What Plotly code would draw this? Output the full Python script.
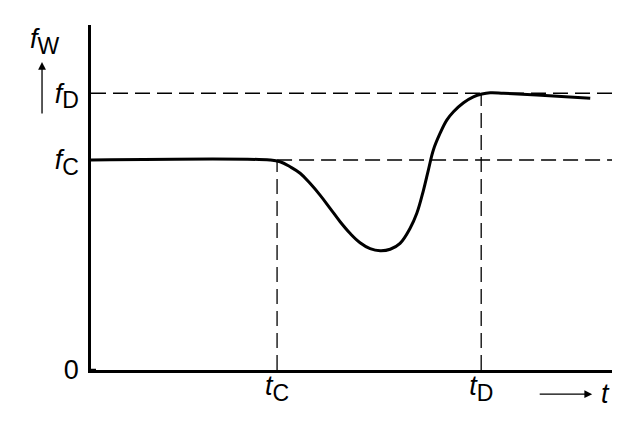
import plotly.graph_objects as go

# time axis: t_C = 1, level axis: f_C = 1
t_C = 1.0
t_D = 2.097
f_C = 1.0
f_D = 1.318

# response curve f_W(t)
curve_t = [0.0, 0.962, 1.016, 1.070, 1.124, 1.177, 1.231, 1.285, 1.339, 1.392,
           1.446, 1.500, 1.554, 1.608, 1.661, 1.715, 1.751, 1.787, 1.813, 1.840,
           1.876, 1.912, 1.948, 2.002, 2.055, 2.101, 2.145, 2.217, 2.396, 2.683]
curve_f = [1.0, 1.0, 0.992, 0.968, 0.937, 0.889, 0.833, 0.770, 0.706, 0.651,
           0.606, 0.578, 0.568, 0.575, 0.603, 0.675, 0.746, 0.857, 0.952, 1.048,
           1.127, 1.190, 1.230, 1.273, 1.301, 1.314, 1.320, 1.318, 1.310, 1.294]

SUB = "<sub><span style='font-size:23px'>%s</span></sub>"
x_ticks = [t_C, t_D]
x_labels = ["<i>t</i>" + SUB % "C", "<i>t</i>" + SUB % "D"]
y_ticks = [0, f_C, f_D]
y_labels = ["0", "<i>f</i>" + SUB % "C", "<i>f</i>" + SUB % "D"]

x_max = 2.80
y_max = 1.643

guide = dict(color="black", width=1.3, dash="15px,7px")

fig = go.Figure()

# dashed guide lines
fig.add_trace(go.Scatter(x=[0, x_max], y=[f_D, f_D], mode="lines", line=guide))
fig.add_trace(go.Scatter(x=[t_C, x_max], y=[f_C, f_C], mode="lines", line=guide))
fig.add_trace(go.Scatter(x=[t_C, t_C], y=[0, f_C], mode="lines", line=guide))
fig.add_trace(go.Scatter(x=[t_D, t_D], y=[0, f_D], mode="lines", line=guide))

# the curve
fig.add_trace(go.Scatter(x=curve_t, y=curve_f, mode="lines",
                         line=dict(color="black", width=3, shape="spline", smoothing=1.1)))

font = dict(family="Liberation Sans", size=27, color="black")

fig.update_layout(
    width=637, height=431,
    margin=dict(l=83, r=33, t=17, b=69),
    paper_bgcolor="white", plot_bgcolor="white",
    showlegend=False,
    font=font,
    xaxis=dict(range=[0, x_max], showgrid=False, zeroline=False,
               showline=True, linecolor="black", linewidth=2.5,
               tickvals=x_ticks, ticktext=x_labels, ticks="",
               ticklabelstandoff=-10, tickfont=font),
    yaxis=dict(range=[0, y_max], showgrid=False, zeroline=False,
               showline=True, linecolor="black", linewidth=2.5,
               tickvals=y_ticks, ticktext=y_labels, ticks="outside",
               ticklen=4, tickcolor="rgba(0,0,0,0)", tickfont=font),
)

# small tick stub at 0
fig.add_shape(type="line", xref="x", yref="y", x0=-8 / 186, x1=5 / 186, y0=0, y1=0,
              line=dict(color="black", width=2.5))

# axis name f_W with upward arrow
fig.add_annotation(x=-0.088, y=0.952, xref="paper", yref="paper", showarrow=False,
                   xanchor="center", yanchor="middle",
                   text="<i>f</i>" + SUB % "W", font=font)
fig.add_annotation(x=-0.094, y=0.893, xref="paper", yref="paper", ax=0, ay=53,
                   text="", showarrow=True, arrowhead=2, arrowsize=1.2,
                   arrowwidth=1.3, arrowcolor="black")

# time arrow and t label
fig.add_annotation(x=0.962, y=-0.070, xref="paper", yref="paper", ax=-54, ay=0,
                   text="", showarrow=True, arrowhead=2, arrowsize=1.2,
                   arrowwidth=1.3, arrowcolor="black")
fig.add_annotation(x=0.987, y=-0.070, xref="paper", yref="paper", showarrow=False,
                   xanchor="center", yanchor="middle",
                   text="<i>t</i>", font=font)

fig.write_html("out.html")
